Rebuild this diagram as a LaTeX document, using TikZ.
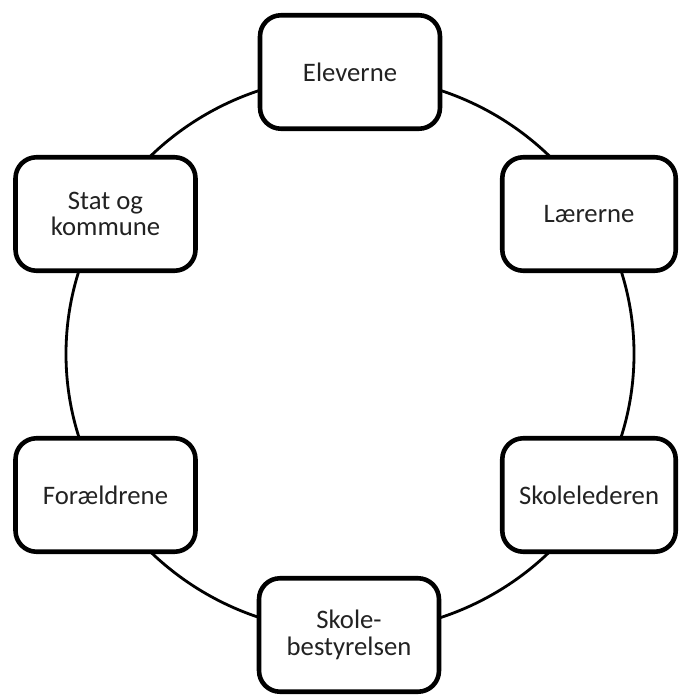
\documentclass[tikz,border=0pt]{standalone}
\usepackage{fontspec}
\setmainfont{Carlito}
\usepackage{tikz}
\usepackage{xcolor}

\definecolor{txtgrey}{HTML}{222222}

\tikzset{
  actor/.style={draw, line width=2.6pt, rounded corners=0.42cm, fill=white,
    minimum width=3.6cm, minimum height=2.27cm, align=center, text=txtgrey,
    font=\fontsize{15.2pt}{15.2pt}\selectfont},
  actorr/.style={actor, minimum width=3.47cm}
}

\begin{document}
\begin{tikzpicture}[x=0.02cm,y=-0.02cm]
        \useasboundingbox (0,0) rectangle (680,695);

        % the ring behind the boxes
        \draw[line width=1.6pt] (350,354) ellipse [x radius=284, y radius=278];

        % top and bottom
        \node[actor] (elev) at (350,72) {Eleverne};
        \node[actor] (best) at (349,635) {Skole-\\bestyrelsen};

        % left side
        \node[actor] (stat) at (105.5,214) {Stat og\\kommune};
        \node[actor] (foraeld) at (105.5,495) {Forældrene};

        % right side
        \node[actorr] (laer) at (589,214) {Lærerne};
        \node[actorr] (leder) at (589,495) {Skolelederen};
    \end{tikzpicture}
\end{document}
